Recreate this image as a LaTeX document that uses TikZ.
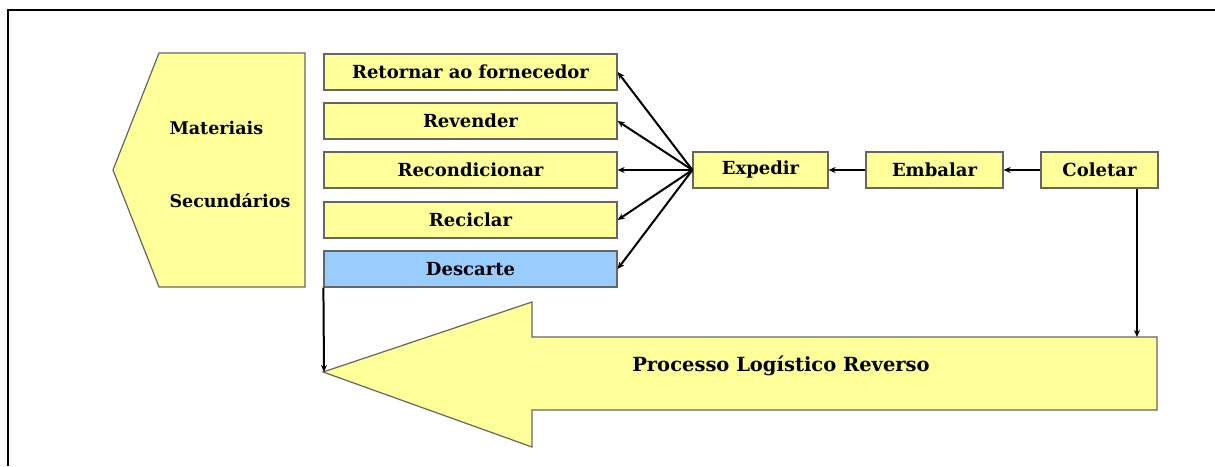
\documentclass[tikz,border=0pt]{standalone}
\usepackage{fontspec}
\setmainfont{DejaVu Serif}
\usetikzlibrary{arrows.meta}
\definecolor{boxyellow}{HTML}{FFFF99}
\definecolor{boxblue}{HTML}{99CCFF}
\tikzset{
	procbox/.style={draw=black!60, line width=1.2pt, fill=boxyellow, minimum height=36pt, inner sep=0pt, font=\fontsize{18}{21}\selectfont\bfseries},
	sidebox/.style={procbox, minimum width=293pt},
	flow/.style={line width=2pt, -{Stealth[length=7pt,width=6pt]}}
}
\begin{document}
\begin{tikzpicture}[x=1pt, y=-1pt]
			%%%%% START %%%%%
			\useasboundingbox (0, 0) rectangle (1215, 466);
			\draw[line width=2pt] (8, 466) -- (8, 10) -- (1215, 10);
			
			\draw[draw=black!60, line width=1.2pt, fill=boxyellow] (159, 53) -- (305, 53) -- (305, 287) -- (159, 287) -- (113, 170) -- cycle;
			\node[anchor=west, font=\fontsize{17.5}{20}\selectfont\bfseries] (mat) at (166, 128) {Materiais};
			\node[anchor=west, font=\fontsize{17.5}{20}\selectfont\bfseries] (sec) at (166, 201) {Secundários};
			
			\node[sidebox] (ret) at (470.5, 72) {Retornar ao fornecedor};
			\node[sidebox] (rev) at (470.5, 121) {Revender};
			\node[sidebox] (rec) at (470.5, 170) {Recondicionar};
			\node[sidebox] (rci) at (470.5, 220) {Reciclar};
			\node[sidebox, fill=boxblue] (des) at (470.5, 269) {Descarte};
			
			\node[procbox, minimum width=135pt] (exp) at (760.5, 170) {Expedir};
			\node[procbox, minimum width=137pt] (emb) at (934.5, 170) {Embalar};
			\node[procbox, minimum width=117pt] (col) at (1099.5, 170) {Coletar};
			
			\draw[draw=black!60, line width=1.2pt, fill=boxyellow] (323, 372) -- (532, 302) -- (532, 337) -- (1157, 337) -- (1157, 410) -- (532, 410) -- (532, 447) -- cycle;
			\node[font=\fontsize{19.5}{23}\selectfont\bfseries] (plr) at (781, 366) {Processo Logístico Reverso};
			\coordinate (tip) at (324, 372);
			\coordinate (top) at (1137, 337);
			
			\foreach \b in {ret, rev, rec, rci, des}
				\draw[flow] (exp.west) -- (\b.east);
			\draw[flow] (emb.west) -- (exp.east);
			\draw[flow] (col.west) -- (emb.east);
			\draw[flow, line width=2.6pt] (col.south -| top) -- (top);
			\draw[flow] (des.south west) -- (tip);
			%%%%% END %%%%%
\end{tikzpicture}
\end{document}
